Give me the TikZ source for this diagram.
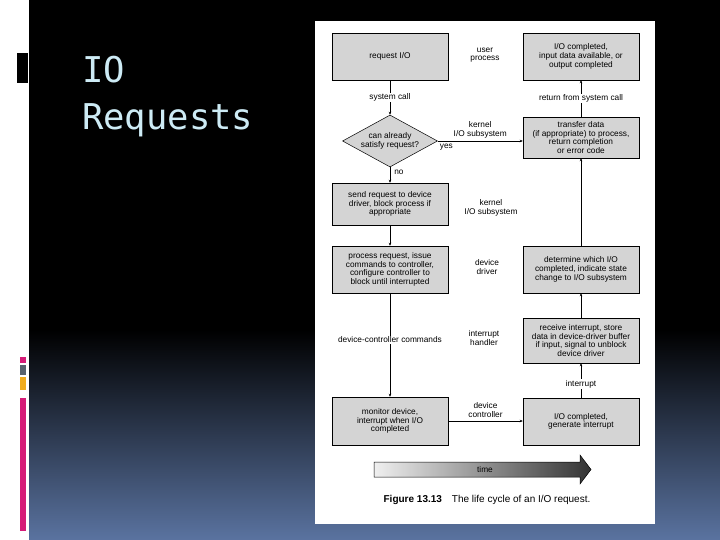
\documentclass[tikz,border=0pt]{standalone}
\usepackage{fontspec}
\setmainfont{Liberation Sans}
\newfontfamily\slidemono{DejaVu Sans Mono}
\usepackage{tikz}
\usetikzlibrary{shapes.geometric, arrows.meta, positioning}
\definecolor{slideblue}{RGB}{90,115,160}
\definecolor{titlecyan}{RGB}{205,235,245}
\definecolor{barpink}{RGB}{214,28,120}
\definecolor{bargray}{RGB}{88,98,110}
\definecolor{barorange}{RGB}{240,172,30}
\definecolor{halftone}{RGB}{212,212,212}
\tikzset{
  stagebox/.style={draw, line width=0.5pt, fill=halftone, minimum width=116pt,
    inner sep=1pt, align=center, font=\fontsize{8.3}{8.7}\selectfont},
  tag/.style={align=center, inner sep=1pt, font=\fontsize{8.3}{8.7}\selectfont},
  flow/.style={line width=0.5pt, -{Stealth[length=3pt,width=2.6pt]}}
}

\begin{document}
\begin{tikzpicture}[x=1pt, y=-1pt]
  \useasboundingbox (0,0) rectangle (720,540);
  % slide background
  \fill[white] (0,0) rectangle (29,540);
  \fill[black] (29,0) rectangle (720,331);
  \shade[top color=black, bottom color=slideblue] (29,330) rectangle (720,540);
  \fill[black] (17,53) rectangle (28,83);
  \fill[barpink] (20,357) rectangle (26,363);
  \fill[bargray] (20,365) rectangle (26,375);
  \fill[barorange] (20,377) rectangle (26,390);
  \fill[barpink] (20,398) rectangle (26,531);
  \node[titlecyan, font=\slidemono\fontsize{35.5}{47}\selectfont, anchor=base west, inner sep=0] (titleA) at (82,83) {IO};
  \node[titlecyan, font=\slidemono\fontsize{35.5}{47}\selectfont, anchor=base west, inner sep=0] (titleB) at (82,130) {Requests};
  % figure page
  \fill[white] (315,21) rectangle (655,524);

  % left column
  \node[stagebox, minimum height=47pt] (req) at (390,56.5) {request I/O};
  \node[diamond, draw, line width=0.5pt, fill=halftone, inner sep=0, aspect=1.8,
    minimum width=95pt, minimum height=52pt, align=center,
    font=\fontsize{8.3}{8.7}\selectfont] (chk) at (390,141) {can already\\satisfy request?};
  \node[stagebox, minimum height=42pt] (send) at (390,204) {send request to device\\driver, block process if\\appropriate};
  \node[stagebox, minimum height=47pt] (proc) at (390,269.5) {process request, issue\\commands to controller,\\configure controller to\\block until interrupted};
  \node[stagebox, minimum height=48pt] (mon) at (390,421) {monitor device,\\interrupt when I/O\\completed};

  % right column
  \node[stagebox, minimum height=47pt] (done) at (581,56.5) {I/O completed,\\input data available, or\\output completed};
  \node[stagebox, minimum height=41pt] (xfer) at (581,137.5) {transfer data\\(if appropriate) to process,\\return completion\\or error code};
  \node[stagebox, minimum height=47pt] (det) at (581,269.5) {determine which I/O\\completed, indicate state\\change to I/O subsystem};
  \node[stagebox, minimum height=45pt] (recv) at (581,340.5) {receive interrupt, store\\data in device-driver buffer\\if input, signal to unblock\\device driver};
  \node[stagebox, minimum height=47pt] (gen) at (581,421.5) {I/O completed,\\generate interrupt};

  \foreach \b in {req,send,proc,mon,done,xfer,det,recv,gen}
    \draw[line width=1.3pt] (\b.south west) -- (\b.south east);

  % layer names
  \node[tag] (lyrUser) at (485,55) {user\\process};
  \node[tag] (lyrKern) at (491,208) {kernel\\I/O subsystem};
  \node[tag] (lyrDrv) at (487,267) {device\\driver};
  \node[tag] (lyrIrq) at (484,338) {interrupt\\handler};

  % connectors
  \draw[flow] (req) -- node[tag, fill=white] {system call} (chk);
  \draw[flow] (chk) -- node[tag, pos=0.3, right=3pt] {no} (send);
  \draw[flow] (chk.east) -- node[tag, above=2pt] {kernel\\I/O subsystem} (chk.east -| xfer.west);
  \node[tag, below right=2pt and 1pt of chk.east] (yes) {yes};
  \draw[flow] (send) -- (proc);
  \draw[flow] (proc) -- node[tag, fill=white, pos=0.45] {device-controller commands} (mon);
  \draw[flow] (mon.east) -- node[tag, above=2pt] {device\\controller} (mon.east -| gen.west);
  \draw[flow] (gen) -- node[tag, fill=white, pos=0.4] {interrupt} (recv);
  \draw[flow] (recv) -- (det);
  \draw[flow] (det) -- (xfer);
  \draw[flow] (xfer) -- node[tag, fill=white] {return from system call} (done);

  % time arrow
  \shade[left color=gray!12, right color=black!80, draw=black, line width=0.5pt]
    (374,462) -- (580,462) -- (580,455) -- (591,469.5) -- (580,484) -- (580,477) -- (374,477) -- cycle;
  \node[tag] (time) at (485,469.5) {time};
  \node[font=\fontsize{10}{12}\selectfont] (caption) at (487,500)
    {\textbf{Figure 13.13}\quad The life cycle of an I/O request.};
\end{tikzpicture}
\end{document}
